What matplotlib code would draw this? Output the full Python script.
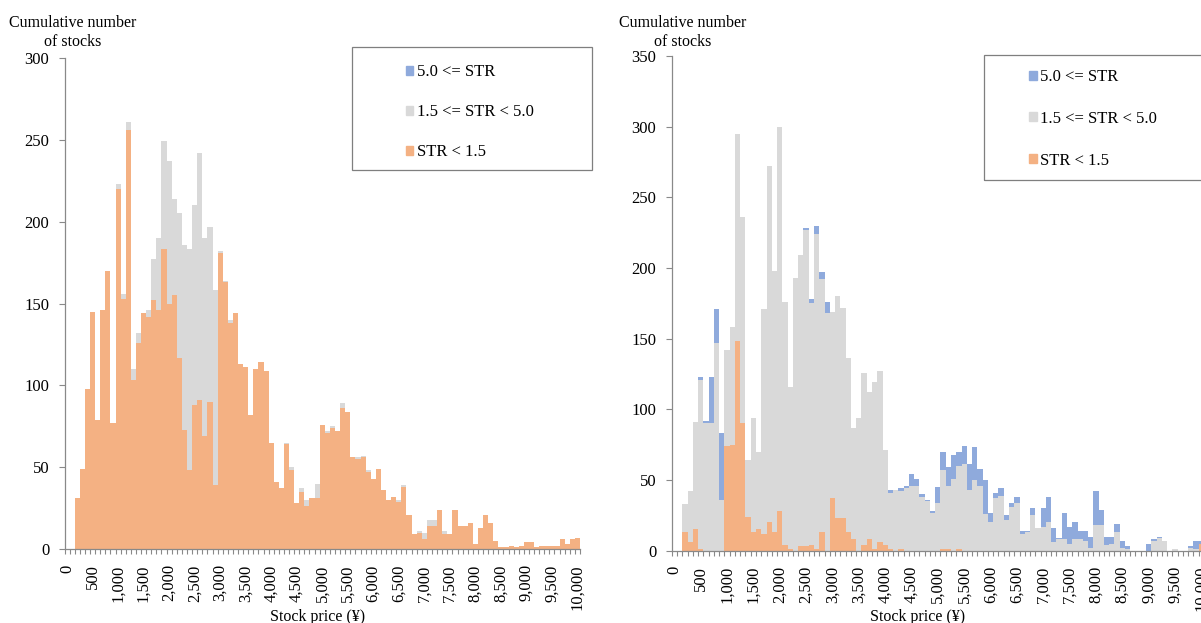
import numpy as np
import matplotlib.pyplot as plt
from matplotlib.patches import Patch, Rectangle

plt.rcParams['font.family'] = ['Liberation Serif', 'DejaVu Serif']
plt.rcParams['font.size'] = 12

# price bins of 100 yen, 0 .. 10,000
prices = list(range(0, 10001, 100))
price_labels = [f"{p:,}" for p in prices[::5]]

series_names = ["5.0 <= STR", "1.5 <= STR < 5.0", "STR < 1.5"]

# left panel: counts per bin
left_low = [0, 0, 31, 49, 98, 145, 79, 146, 170, 77,
            220, 153, 256, 103, 126, 144, 142, 152, 146, 183,
            150, 155, 117, 73, 48, 88, 91, 69, 90, 39,
            181, 163, 138, 144, 113, 111, 82, 110, 114, 109,
            65, 41, 37, 64, 48, 28, 35, 26, 31, 31,
            76, 71, 74, 72, 86, 84, 56, 55, 56, 47,
            43, 49, 36, 30, 32, 29, 38, 21, 9, 10,
            6, 14, 14, 24, 9, 9, 24, 14, 14, 16,
            3, 13, 21, 16, 5, 1, 1, 2, 1, 2,
            4, 4, 1, 2, 2, 2, 2, 6, 3, 6,
            7]
left_mid = [0, 0, 0, 0, 0, 0, 0, 0, 0, 0,
            3, 3, 5, 7, 6, 0, 4, 25, 44, 66,
            87, 59, 88, 113, 135, 122, 151, 121, 107, 119,
            1, 1, 2, 0, 0, 0, 0, 0, 0, 0,
            0, 0, 0, 1, 2, 0, 2, 4, 0, 9,
            0, 1, 1, 0, 3, 0, 0, 1, 1, 1,
            0, 0, 0, 0, 0, 1, 1, 0, 0, 1,
            4, 4, 4, 0, 2, 0, 0, 0, 0, 0,
            0, 0, 0, 0, 0, 0, 0, 0, 0, 0,
            0, 0, 0, 0, 0, 0, 0, 0, 0, 0,
            0]
left_high = [0] * 101

# right panel: counts per bin
right_low = [0, 0, 13, 6, 15, 1, 0, 0, 0, 0,
             74, 75, 148, 90, 24, 13, 15, 12, 20, 13,
             28, 4, 1, 0, 3, 3, 4, 1, 13, 0,
             37, 23, 23, 13, 8, 0, 4, 8, 1, 6,
             4, 1, 0, 1, 0, 0, 0, 0, 0, 0,
             0, 1, 1, 0, 1, 0, 0, 0, 0, 0,
             0, 0, 0, 0, 0, 0, 0, 0, 0, 0,
             0, 0, 0, 0, 0, 0, 0, 0, 0, 0,
             0, 0, 0, 0, 0, 0, 0, 0, 0, 0,
             0, 0, 0, 0, 0, 0, 0, 0, 0, 0,
             5]
right_mid = [0, 0, 20, 36, 76, 120, 90, 90, 147, 36,
             68, 83, 147, 146, 40, 81, 55, 159, 252, 185,
             272, 172, 115, 193, 206, 224, 171, 223, 179, 168,
             132, 157, 149, 123, 79, 94, 122, 104, 118, 121,
             67, 40, 43, 41, 44, 46, 46, 38, 35, 27,
             34, 56, 45, 51, 59, 61, 43, 50, 46, 26,
             20, 37, 39, 22, 31, 34, 12, 13, 25, 16,
             17, 20, 6, 8, 8, 5, 8, 8, 7, 2,
             18, 18, 4, 5, 13, 2, 1, 0, 0, 0,
             0, 7, 9, 7, 0, 1, 0, 0, 2, 1,
             0]
right_high = [0, 0, 0, 0, 0, 2, 2, 33, 24, 47,
              0, 0, 0, 0, 0, 0, 0, 0, 0, 0,
              0, 0, 0, 0, 0, 1, 3, 6, 5, 8,
              0, 0, 0, 0, 0, 0, 0, 0, 0, 0,
              0, 2, 0, 2, 2, 8, 5, 2, 1, 1,
              11, 13, 13, 17, 10, 13, 18, 23, 12, 24,
              7, 4, 5, 3, 3, 4, 2, 1, 5, 0,
              13, 18, 10, 1, 19, 12, 12, 6, 7, 8,
              24, 11, 6, 5, 6, 5, 2, 0, 0, 0,
              5, 1, 1, 0, 0, 0, 0, 0, 1, 6,
              2]

C_LOW = '#F4B183'
C_MID = '#D9D9D9'
C_HIGH = '#8FAADC'
C_AXIS = '#898989'

W, H = 1201, 623
fig = plt.figure(figsize=(W / 100, H / 100), dpi=100)


def px_rect(x0, y0, x1, y1):
    # pixel box (top-left origin) -> figure fraction [left, bottom, width, height]
    return [x0 / W, 1 - y1 / H, (x1 - x0) / W, (y1 - y0) / H]


def draw_panel(ax, low, mid, high, ymax):
    low, mid, high = np.array(low), np.array(mid), np.array(high)
    x = np.arange(len(low))
    ax.bar(x, low, width=1, align='edge', color=C_LOW, linewidth=0)
    ax.bar(x, mid, bottom=low, width=1, align='edge', color=C_MID, linewidth=0)
    ax.bar(x, high, bottom=low + mid, width=1, align='edge', color=C_HIGH, linewidth=0)
    ax.set_xlim(0, len(low))
    ax.set_ylim(0, ymax)
    ax.set_yticks(range(0, ymax + 1, 50))
    ax.set_xticks(x[::5] + 0.5)
    ax.set_xticklabels(price_labels, rotation=90)
    ax.set_xticks(np.arange(0, len(low) + 1), minor=True)
    ax.tick_params(axis='x', which='major', length=0, pad=11)
    ax.tick_params(axis='x', which='minor', length=3.5, color=C_AXIS, width=0.8)
    ax.tick_params(axis='y', length=4, color=C_AXIS, width=0.8, pad=7)
    for s in ('top', 'right'):
        ax.spines[s].set_visible(False)
    for s in ('left', 'bottom'):
        ax.spines[s].set_color(C_AXIS)
        ax.spines[s].set_linewidth(0.9)


def draw_legend(box, anchor, spacing):
    x0, y0, x1, y1 = box
    fig.add_artist(Rectangle((x0 / W, 1 - y1 / H), (x1 - x0) / W, (y1 - y0) / H,
                             transform=fig.transFigure, fill=False,
                             edgecolor='#7f7f7f', linewidth=0.9))
    handles = [Patch(color=C_HIGH), Patch(color=C_MID), Patch(color=C_LOW)]
    fig.legend(handles, series_names, loc='upper left',
               bbox_to_anchor=(anchor[0] / W, 1 - anchor[1] / H),
               frameon=False, borderpad=0, borderaxespad=0,
               handlelength=0.45, handleheight=0.45, handletextpad=0.2,
               labelspacing=spacing, fontsize=12)


ax1 = fig.add_axes(px_rect(64.5, 58, 580, 549))
draw_panel(ax1, left_low, left_mid, left_high, 300)

ax2 = fig.add_axes(px_rect(671.7, 55.9, 1204, 550.7))
draw_panel(ax2, right_low, right_mid, right_high, 350)

draw_legend((352, 47, 592, 170), (406, 64), 1.45)
draw_legend((984, 55, 1260, 180), (1029, 69), 1.55)

for cx in (73, 683):
    fig.text(cx / W, 1 - 32.5 / H, "Cumulative number\nof stocks", ha='center',
             va='center', linespacing=1.3, fontsize=11.5)

for cx in (318, 918):
    fig.text(cx / W, 1 - 617 / H, "Stock price (\u00a5)", ha='center', va='center',
             fontsize=11.5)

fig.savefig('out.png', dpi=100)
